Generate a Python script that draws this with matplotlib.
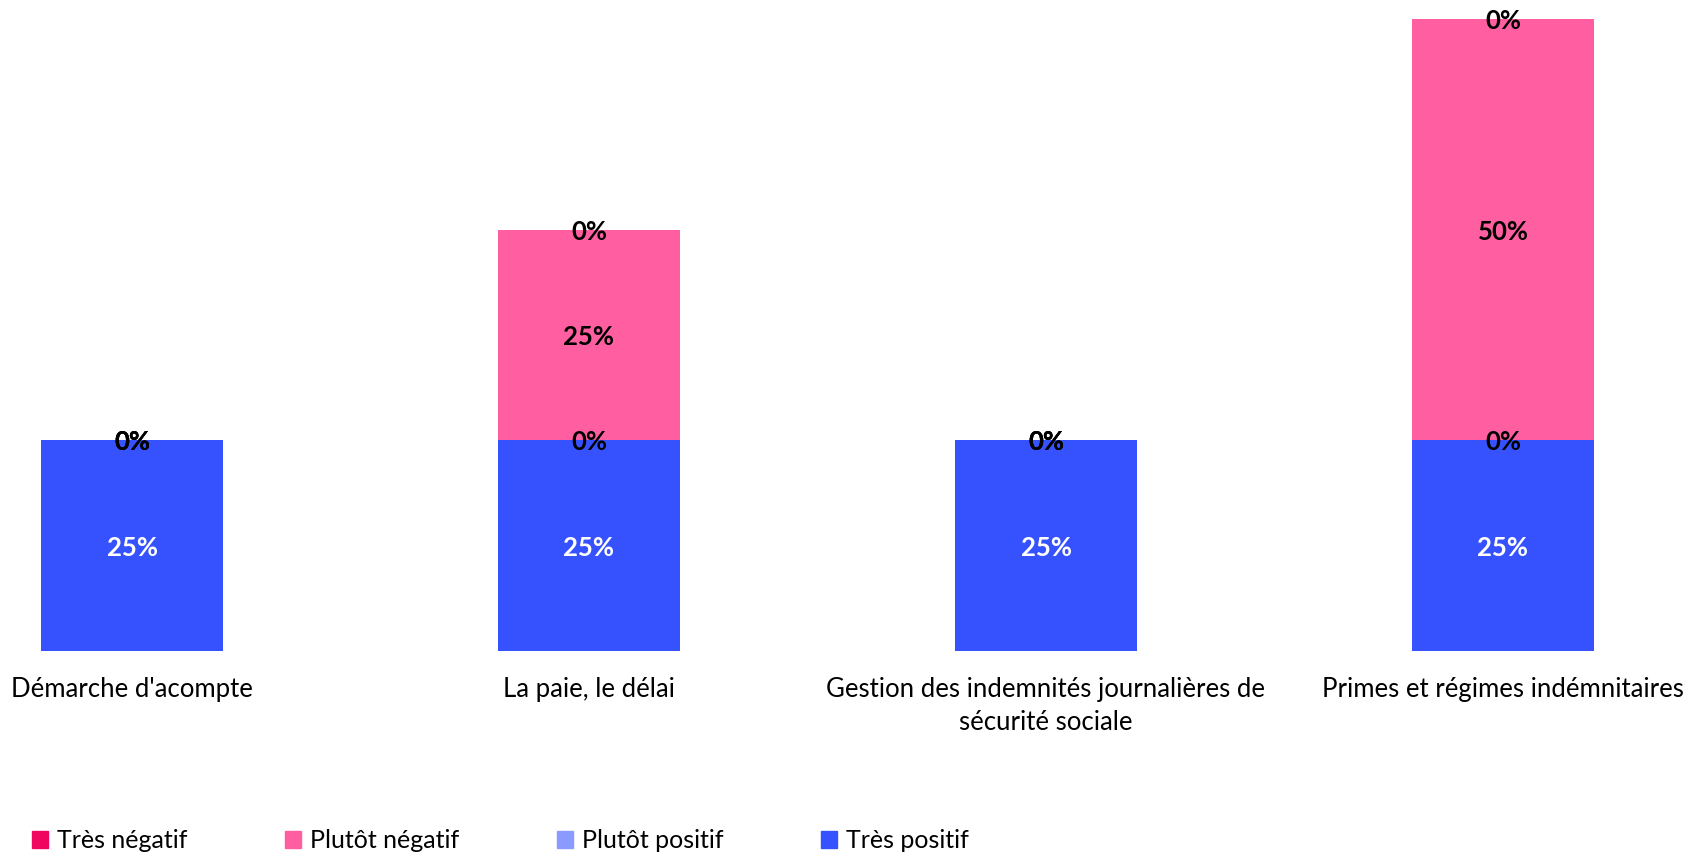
import numpy as np
import matplotlib
matplotlib.use('Agg')
import matplotlib.pyplot as plt
from matplotlib.patches import Patch

plt.rcParams['font.family'] = ['Lato', 'DejaVu Sans']

categories = ["Démarche d'acompte", "La paie, le délai",
              "Gestion des indemnités journalières de\nsécurité sociale",
              "Primes et régimes indémnitaires"]
# stacked from bottom to top
series = ["Très positif", "Plutôt positif", "Plutôt négatif", "Très négatif"]
values = {
    "Très positif": [25, 25, 25, 25],
    "Plutôt positif": [0, 0, 0, 0],
    "Plutôt négatif": [0, 25, 0, 50],
    "Très négatif": [0, 0, 0, 0],
}
colors = {
    "Très négatif": '#F0065F',
    "Plutôt négatif": '#FF5FA0',
    "Plutôt positif": '#8A9BFF',
    "Très positif": '#3652FF',
}
label_colors = {
    "Très positif": 'white',
    "Plutôt positif": 'black',
    "Plutôt négatif": 'black',
    "Très négatif": 'black',
}
legend_order = ["Très négatif", "Plutôt négatif", "Plutôt positif", "Très positif"]

W, H = 1688, 856
fig = plt.figure(figsize=(W / 100, H / 100), dpi=100)
ax = fig.add_axes([0, 1 - 651 / H, 1, (651 - 19) / H])

x = np.arange(len(categories))
bottom = np.zeros(len(categories))
for s in series:
    v = np.array(values[s], dtype=float)
    ax.bar(x, v, 0.4, bottom=bottom, color=colors[s], linewidth=0)
    for xi, b, vi in zip(x, bottom, v):
        ax.text(xi, b + vi / 2, f'{vi:.0f}%', ha='center', va='center_baseline',
                color=label_colors[s], fontsize=18.5, fontweight='bold', clip_on=False)
    bottom += v

ax.set_xlim(-132 / 457, (W - 132) / 457)
ax.set_ylim(0, 75)
ax.set_yticks([])
ax.set_xticks(x)
ax.set_xticklabels(categories, fontsize=18.5, linespacing=1.38)
ax.tick_params(axis='x', length=0, pad=19)
for sp in ax.spines.values():
    sp.set_visible(False)

handles = [Patch(color=colors[s]) for s in legend_order]
fig.legend(handles, legend_order,
           loc='center left', bbox_to_anchor=(0.019, 1 - 841 / H), ncol=4, frameon=False,
           fontsize=18, handlelength=0.65, handleheight=0.65, handletextpad=0.35,
           columnspacing=3.9, borderpad=0, borderaxespad=0)

fig.savefig('out.png', dpi=100)
